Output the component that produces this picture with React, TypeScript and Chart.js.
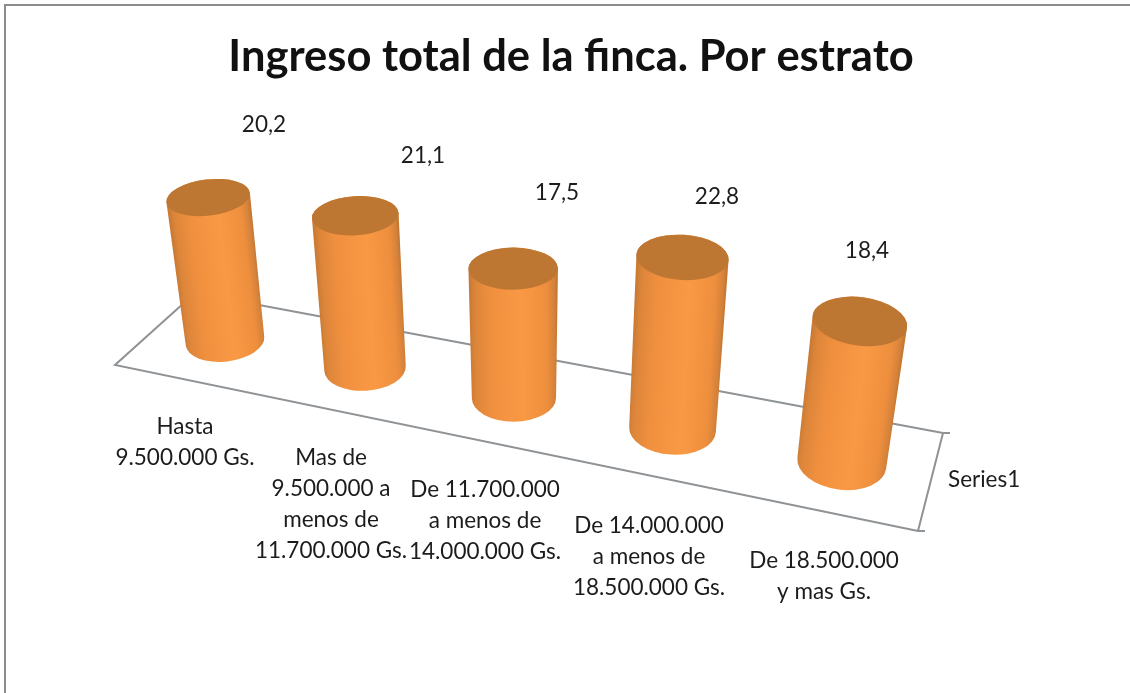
import React, { useEffect, useRef } from "react";
import { Chart, registerables } from "chart.js";

Chart.register(...registerables);

const titleText = "Ingreso total de la finca. Por estrato";
const seriesName = "Series1";
const categories = [
  ["Hasta", "9.500.000 Gs."],
  ["Mas de", "9.500.000 a", "menos de", "11.700.000 Gs."],
  ["De 11.700.000", "a menos de", "14.000.000 Gs."],
  ["De 14.000.000", "a menos de", "18.500.000 Gs."],
  ["De 18.500.000", "y mas Gs."],
];
const values = [20.2, 21.1, 17.5, 22.8, 18.4];

// View settings for the 3D look (not data)
const FONT = "Lato, Carlito, sans-serif";
const TEXT = "#1c1c1c";
const valueLabelAnchors = [[264, 125], [423, 156], [557, 193], [717, 197], [867, 251]];
const categoryLabelAnchors = [[185, 427], [331, 458], [485, 490], [649, 526], [824, 561]];
const LINE_H = 31;
const VANISH = { x: 528, y: 2925 };
const floorCorners = { fl: [115, 365], fr: [918, 531], br: [943, 433], bl: [195, 293] };

function floorPoint(i: number) {
  const x = (225 + 129.2 * i) / (1 - 0.0297 * i);
  return { x, y: 341 + (x - 225) * 0.1977 };
}

const cylinderPlugin = {
  id: "cylinders",
  beforeDraw(chart: any) {
    const { ctx } = chart;
    ctx.save();
    ctx.fillStyle = "#ffffff";
    ctx.fillRect(0, 0, chart.width, chart.height);
    ctx.strokeStyle = "#8c8c8c";
    ctx.lineWidth = 2;
    ctx.beginPath();
    ctx.moveTo(5, chart.height);
    ctx.lineTo(5, 5);
    ctx.lineTo(chart.width, 5);
    ctx.stroke();
    // floor
    const { fl, fr, br, bl } = floorCorners;
    ctx.strokeStyle = "#8f9396";
    ctx.lineWidth = 2;
    ctx.beginPath();
    ctx.moveTo(bl[0], bl[1]);
    ctx.lineTo(fl[0], fl[1]);
    ctx.lineTo(fr[0], fr[1]);
    ctx.lineTo(fr[0] + 7, fr[1]);
    ctx.moveTo(fr[0], fr[1]);
    ctx.lineTo(br[0], br[1]);
    ctx.lineTo(br[0] + 7, br[1]);
    ctx.moveTo(br[0], br[1]);
    ctx.lineTo(bl[0], bl[1]);
    ctx.stroke();
    ctx.restore();
  },
  beforeDatasetDraw(chart: any, args: any) {
    const { ctx, chartArea } = chart;
    const meta = args.meta;
    const step = chartArea.width / meta.data.length;
    meta.data.forEach((el: any) => {
      const i = (el.x - chartArea.left) / step - 0.5;
      const base = floorPoint(i);
      const h = (el.base - el.y) * (0.987 + 0.0205 * i);
      const ax = base.x - VANISH.x;
      const ay = base.y - VANISH.y;
      const len = Math.hypot(ax, ay);
      const ux = ax / len;
      const uy = ay / len;
      const top = { x: base.x + (ux * h) / -uy, y: base.y - h };
      const angle = Math.atan2(ux, -uy);
      const rTop = (el.width / 2) * (1 + 0.033 * i);
      const rBot = rTop * 0.94;
      const ratio = 0.43 + 0.02 * i;
      const ryTop = rTop * ratio;
      const ryBot = rBot * (ratio + 0.09);
      const cos = Math.cos(angle);
      const sin = Math.sin(angle);
      const mx = (base.x + top.x) / 2;
      const my = (base.y + top.y) / 2;
      const rMid = (rTop + rBot) / 2;
      const grad = ctx.createLinearGradient(mx - rMid * cos, my - rMid * sin, mx + rMid * cos, my + rMid * sin);
      grad.addColorStop(0, "#c97a35");
      grad.addColorStop(0.06, "#dc853a");
      grad.addColorStop(0.25, "#f0903f");
      grad.addColorStop(0.6, "#fa9944");
      grad.addColorStop(0.88, "#ee8f3e");
      grad.addColorStop(0.97, "#d5823a");
      grad.addColorStop(1, "#c47833");
      ctx.save();
      ctx.beginPath();
      ctx.ellipse(base.x, base.y, rBot, ryBot, angle, 0, Math.PI, false);
      ctx.ellipse(top.x, top.y, rTop, ryTop, angle, Math.PI, Math.PI * 2, false);
      ctx.closePath();
      ctx.fillStyle = grad;
      ctx.fill();
      ctx.beginPath();
      ctx.ellipse(top.x, top.y, rTop, ryTop, angle, 0, Math.PI * 2);
      ctx.fillStyle = "#bd7733";
      ctx.fill();
      ctx.restore();
    });
    return false;
  },
  afterDraw(chart: any) {
    const { ctx } = chart;
    ctx.save();
    ctx.fillStyle = TEXT;
    ctx.textAlign = "center";
    ctx.textBaseline = "middle";
    ctx.font = `22.5px ${FONT}`;
    chart.data.datasets[0].data.forEach((v: number, i: number) => {
      const [x, y] = valueLabelAnchors[i];
      ctx.fillText(v.toFixed(1).replace(".", ","), x, y);
    });
    chart.data.labels.forEach((lines: string[], i: number) => {
      const [x, y] = categoryLabelAnchors[i];
      lines.forEach((line, k) => ctx.fillText(line, x, y + k * LINE_H));
    });
    ctx.textAlign = "left";
    ctx.fillText(chart.data.datasets[0].label, 948, 480);
    ctx.restore();
  },
};

export default function App() {
  const ref = useRef<HTMLCanvasElement>(null);
  useEffect(() => {
    document.body.style.margin = "0";
    const chart = new Chart(ref.current!, {
      type: "bar",
      data: {
        labels: categories as any,
        datasets: [
          {
            label: seriesName,
            data: values,
            backgroundColor: "#f79646",
            barPercentage: 0.3757,
            categoryPercentage: 1,
          },
        ],
      },
      options: {
        responsive: false,
        animation: false,
        layout: { padding: { left: 12, right: 0, top: 0, bottom: 240 } },
        plugins: {
          legend: { display: false },
          tooltip: { enabled: false },
          title: {
            display: true,
            text: titleText,
            color: "#111111",
            font: { family: FONT, size: 43.5, weight: "bold" },
            padding: { top: 31, bottom: 10 },
          },
        },
        scales: {
          x: { display: false },
          y: { display: false, min: 0, max: 50 },
        },
      },
      plugins: [cylinderPlugin],
    });
    return () => chart.destroy();
  }, []);
  return (
    <div style={{ position: "fixed", left: 0, top: 0, width: 1130, height: 693 }}>
      <canvas ref={ref} width={1130} height={693} style={{ display: "block" }} />
    </div>
  );
}
